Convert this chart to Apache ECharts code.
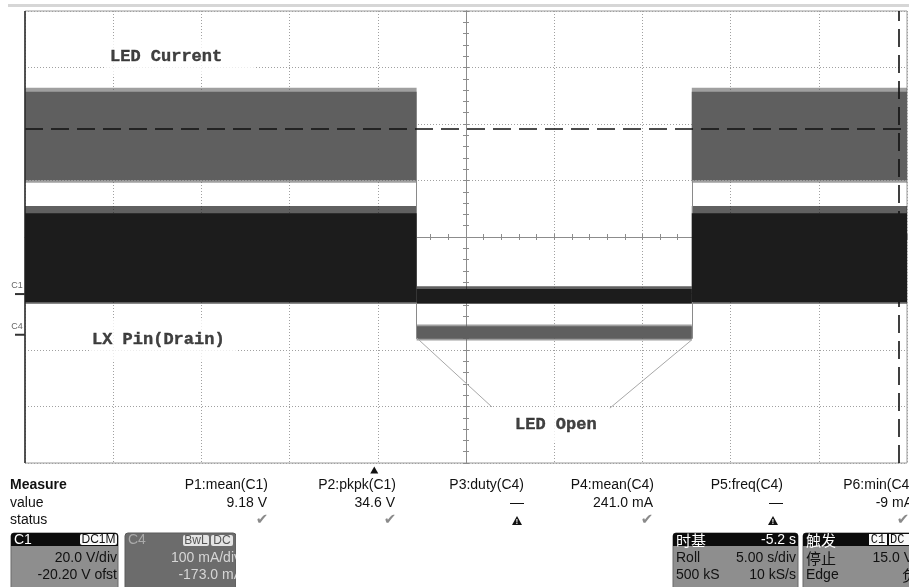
<!DOCTYPE html>
<html><head><meta charset="utf-8">
<script src="https://cdn.jsdelivr.net/npm/echarts/dist/echarts.min.js"></script>
<style>html,body{margin:0;padding:0;background:#fff}#c{width:909px;height:587px}</style>
</head><body><div id="c"></div>
<script>
// ---------- data read from the scope screen ----------
// time in seconds (trigger = 0 s), 5 s/div, delay -5.2 s
const timeBreaks = [-19.8, 2.4, 18.0, 30.2];           // LED normal | LED open | LED normal
// C4: LED current (mA), envelope of the noisy trace in each segment
const ledCurrentHigh  = [430, 15, 430];
const ledCurrentLow   = [274, -7, 274];
const ledCurrentPeakHigh = [437, 18, 437];
const ledCurrentPeakLow  = [269, -10, 269];
// C1: LX pin (drain) voltage (V)
const lxHigh = [28.6, 1.8, 28.6];
const lxLow  = [-2.8, -3.2, -2.8];
const lxPeakHigh = [31.2, 2.8, 31.2];
const lxPeakLow  = [-3.4, -3.5, -3.4];
// cursors
const refLevelmA = 364;
const cursorTime = 29.75;
const triggerTime = 0;
// annotation (screen divisions from centre)
const annotLeft  = [[-0.556, -1.79], [0.295, -3.01]];
const annotRight = [[2.56, -1.82], [1.63, -3.03]];
const annotTexts = ['LED Current', 'LX Pin(Drain)', 'LED Open'];
const annotAt    = [[-4.093, 3.19], [-4.263, -1.823], [0.272, -3.327]];
// measurement table
const measureNames  = ['P1:mean(C1)', 'P2:pkpk(C1)', 'P3:duty(C4)', 'P4:mean(C4)', 'P5:freq(C4)', 'P6:min(C4)'];
const measureValues = ['9.18 V', '34.6 V', '\u2014', '241.0 mA', '\u2014', '-9 mA'];
const measureStatus = ['ok', 'ok', 'warn', 'ok', 'warn', 'ok'];
// channel / timebase settings
const c1Settings = ['20.0 V/div', '-20.20 V ofst'];
const c4Settings = ['100 mA/div', '-173.0 mA'];
const tbSettings = [['Roll', '5.00 s/div'], ['500 kS', '10 kS/s']];
const trigSettings = [['\u505c\u6b62', '15.0 V'], ['Edge', '\u8d1f']];

// ---------- scales ----------
const SEC_DIV = 5, DELAY = 5.2;
const timeRange = [DELAY - 5 * SEC_DIV, DELAY + 5 * SEC_DIV];
const C1_SCALE = 20, C1_OFST = -20.2;
const c1Range = [-C1_OFST - 4 * C1_SCALE, -C1_OFST + 4 * C1_SCALE];
const C4_SCALE = 100, C4_OFST = -173;
const c4Range = [-C4_OFST - 4 * C4_SCALE, -C4_OFST + 4 * C4_SCALE];

function bandSeries(name, lows, highs, color, yIdx, z) {
  const data = lows.map((lo, i) => [timeBreaks[i], timeBreaks[i + 1], lo, highs[i]]);
  return {
    type: 'custom', name, z, xAxisIndex: 2, yAxisIndex: yIdx, clip: true,
    dimensions: ['t0', 't1', 'lo', 'hi'], encode: { x: [0, 1], y: [2, 3] },
    data,
    renderItem: (params, api) => {
      const p0 = api.coord([api.value(0), api.value(3)]);
      const p1 = api.coord([api.value(1), api.value(2)]);
      return { type: 'rect', shape: { x: p0[0], y: p0[1], width: p1[0] - p0[0], height: p1[1] - p0[1] },
        style: { fill: color } };
    }
  };
}

const axisCol = '#8c8c8c';
const divAxisX = (pos, split) => ({
  type: 'value', min: -5, max: 5, interval: 1, position: pos,
  axisLine: { show: true, onZero: true, onZeroAxisIndex: 0, lineStyle: { color: axisCol, width: 1 } },
  axisTick: { show: true, length: 3, lineStyle: { color: axisCol } },
  minorTick: { show: true, splitNumber: 5, length: 3, lineStyle: { color: axisCol } },
  axisLabel: { show: false },
  splitLine: { show: split, lineStyle: { color: '#a0a0a0', width: 1, type: [1, 2] } }
});
const divAxisY = (pos, split) => ({
  type: 'value', min: -4, max: 4, interval: 1, position: pos,
  axisLine: { show: true, onZero: true, onZeroAxisIndex: 0, lineStyle: { color: axisCol, width: 1 } },
  axisTick: { show: true, length: 3, lineStyle: { color: axisCol } },
  minorTick: { show: true, splitNumber: 5, length: 3, lineStyle: { color: axisCol } },
  axisLabel: { show: false },
  splitLine: { show: split, lineStyle: { color: '#a0a0a0', width: 1, type: [1, 2] } }
});

// ---------- UI graphics (measure table and panels) ----------
const G = [];
const SANS = 'Liberation Sans, Arial, sans-serif';
const CJK = 'Noto Sans CJK SC, sans-serif';
function T(x, y, text, o) {
  G.push({ type: 'text', x, y, z: 100, style: Object.assign({ text, fontFamily: SANS, fontSize: 14, fill: '#111', align: 'left', verticalAlign: 'middle' }, o || {}) });
}
function R(x, y, w, h, fill, o) {
  o = o || {};
  G.push({ type: 'rect', z: o.z || 99, shape: { x, y, width: w, height: h, r: o.r || 0 }, style: { fill, stroke: o.stroke || null, lineWidth: o.lw || 0 } });
}
R(8, 4, 901, 3, '#d6d6d6');
T(10, 485, 'Measure', { fontWeight: 'bold' });
T(10, 503, 'value');
T(10, 520, 'status');
const colRight = [268, 396, 524, 654, 783, 914];
const iconX = [262, 390, 517, 647, 773, 903];
measureNames.forEach((n, i) => {
  T(colRight[i], 485, n, { align: 'right' });
  T(colRight[i] - (measureValues[i] === '\u2014' ? 0 : 1), 503, measureValues[i], { align: 'right' });
  if (measureStatus[i] === 'ok') {
    T(iconX[i], 520, '\u2714', { align: 'center', fontFamily: 'DejaVu Sans', fontSize: 15, fill: '#8a8a8a' });
  } else {
    const x = iconX[i], y = 521;
    G.push({ type: 'polygon', z: 100, shape: { points: [[x - 5, y + 4], [x + 5, y + 4], [x, y - 5]] }, style: { fill: '#111' } });
    T(x, y + 1, '!', { align: 'center', fontSize: 7, fontWeight: 'bold', fill: '#fff', z: 101 });
  }
});
// C1 panel
R(11, 533, 107, 60, '#8e8e8e', { r: 3, stroke: '#6a6a6a', lw: 1 });
R(11, 533, 107, 13, '#0c0c0c', { r: [3, 3, 0, 0] });
T(14, 540, 'C1', { fill: '#fff' });
R(80, 534, 37, 11, '#fafafa', { r: 2, z: 100 });
T(98.5, 540, 'DC1M', { align: 'center', fontSize: 12, fill: '#111', z: 101 });
T(117, 558, c1Settings[0], { align: 'right' });
T(117, 575, c1Settings[1], { align: 'right' });
// C4 panel
R(125, 533, 111, 60, '#6c6c6c', { r: 3, stroke: '#5a5a5a', lw: 1 });
T(128, 540, 'C4', { fill: '#a9a9a9' });
R(183, 535, 26, 11, '#e4e4e4', { r: 2, z: 100 });
T(196, 540.5, 'BwL', { align: 'center', fontSize: 12, fill: '#555', z: 101 });
R(211, 535, 22, 11, '#e4e4e4', { r: 2, z: 100 });
T(222, 540.5, 'DC', { align: 'center', fontSize: 12, fill: '#555', z: 101 });
T(241, 558, c4Settings[0], { align: 'right', fill: '#d6d6d6' });
T(243, 575, c4Settings[1], { align: 'right', fill: '#d6d6d6' });
R(236, 528, 30, 59, '#fff', { z: 102 });
// timebase panel
R(673, 533, 125, 60, '#8e8e8e', { r: 3, stroke: '#6a6a6a', lw: 1 });
R(673, 533, 125, 13, '#0c0c0c', { r: [3, 3, 0, 0] });
T(676, 540, '\u65f6\u57fa', { fill: '#fff', fontFamily: CJK, fontSize: 15 });
T(796, 540, '-5.2 s', { align: 'right', fill: '#fff' });
tbSettings.forEach((r, i) => { T(676, 558 + i * 17, r[0]); T(796, 558 + i * 17, r[1], { align: 'right' }); });
// trigger panel
R(803, 533, 120, 60, '#8e8e8e', { r: 3, stroke: '#6a6a6a', lw: 1 });
R(803, 533, 120, 13, '#0c0c0c', { r: [3, 0, 0, 0] });
T(806, 540, '\u89e6\u53d1', { fill: '#fff', fontFamily: CJK, fontSize: 15 });
R(869, 534, 18, 11, '#fafafa', { z: 100 });
T(878, 540, 'C1', { align: 'center', fontFamily: 'Liberation Mono, monospace', fontSize: 12, z: 101 });
R(889, 534, 22, 11, '#fafafa', { z: 100 });
T(890, 540, 'DC', { fontFamily: 'Liberation Mono, monospace', fontSize: 12, z: 101 });
trigSettings.forEach((r, i) => {
  T(806, 558 + i * 17, r[0], i === 0 ? { fontFamily: CJK, fontSize: 15 } : {});
  T(i === 0 ? 913 : 917, 558 + i * 17, r[1], Object.assign({ align: 'right' }, i === 1 ? { fontFamily: CJK, fontSize: 15 } : {}));
});

const chart = echarts.init(document.getElementById('c'), null, { renderer: 'canvas' });
const labelFont = { fontFamily: 'Liberation Mono, Courier New, monospace', fontWeight: 'bold', fontSize: 17, color: '#111', backgroundColor: '#fff', lineHeight: 18, textBorderColor: '#111', textBorderWidth: 0.4 };
const pads = [[9, 33, 9, 5], [10, 12, 16, 2], [4, 13, 14, 25]];

chart.setOption({
  animation: false,
  backgroundColor: '#fff',
  grid: { left: 25, top: 11, width: 882, height: 452, show: true, borderColor: '#9a9a9a', borderWidth: 1, backgroundColor: '#fff' },
  xAxis: [divAxisX('bottom', true), divAxisX('top', false),
    { type: 'value', min: timeRange[0], max: timeRange[1], show: false }],
  yAxis: [divAxisY('left', true), divAxisY('right', false),
    { type: 'value', min: c1Range[0], max: c1Range[1], show: false },
    { type: 'value', min: c4Range[0], max: c4Range[1], show: false }],
  graphic: G,
  series: [
    bandSeries('LED current peaks', ledCurrentPeakLow, ledCurrentPeakHigh, 'rgba(95,95,95,0.6)', 3, 2),
    bandSeries('LED current', ledCurrentLow, ledCurrentHigh, '#5f5f5f', 3, 3),
    {
      type: 'line', name: 'LED current edges', xAxisIndex: 2, yAxisIndex: 3, data: [], z: 3,
      markLine: {
        silent: true, symbol: 'none', label: { show: false },
        lineStyle: { color: '#8a8a8a', width: 1, type: 'solid' },
        data: [
          [{ coord: [timeBreaks[1], ledCurrentLow[0]] }, { coord: [timeBreaks[1], ledCurrentLow[1]] }],
          [{ coord: [timeBreaks[2], ledCurrentLow[1]] }, { coord: [timeBreaks[2], ledCurrentLow[2]] }]
        ]
      }
    },
    bandSeries('LX peaks', lxPeakLow, lxPeakHigh, 'rgba(28,28,28,0.7)', 2, 4),
    bandSeries('LX', lxLow, lxHigh, '#1c1c1c', 2, 5),
    {
      type: 'line', name: 'C1 markers', xAxisIndex: 2, yAxisIndex: 2, data: [], z: 6,
      markPoint: {
        silent: true,
        data: [
          { coord: [triggerTime, c1Range[0]], symbol: 'triangle', symbolSize: [8, 7], symbolOffset: [0, 7], itemStyle: { color: '#111' }, label: { show: false } },
          { coord: [timeRange[0], 0], symbol: 'rect', symbolSize: [10, 2], symbolOffset: [-5, 0], itemStyle: { color: '#333' },
            label: { show: true, formatter: 'C1', position: 'top', distance: 3, offset: [-3, 0], fontSize: 9, color: '#666', fontFamily: SANS } }
        ]
      }
    },
    {
      type: 'line', name: 'C4 markers', xAxisIndex: 2, yAxisIndex: 3, data: [], z: 6,
      markPoint: {
        silent: true,
        data: [
          { coord: [timeRange[0], 0], symbol: 'rect', symbolSize: [10, 2], symbolOffset: [-5, 0], itemStyle: { color: '#333' },
            label: { show: true, formatter: 'C4', position: 'top', distance: 3, offset: [-3, 0], fontSize: 9, color: '#666', fontFamily: SANS } }
        ]
      },
      markLine: {
        silent: true, symbol: 'none', label: { show: false },
        lineStyle: { color: '#111', width: 1.6, type: [18, 8] },
        data: [{ yAxis: refLevelmA }, { xAxis: cursorTime }]
      }
    },
    {
      type: 'line', name: 'annot left', data: annotLeft, symbol: 'none', z: 7,
      lineStyle: { color: '#a8a8a8', width: 1 },
      markLine: { silent: true, symbol: 'none', label: { show: false }, lineStyle: { color: '#2a2a2a', width: 1.5, type: 'solid' }, data: [{ xAxis: -5 }] }
    },
    { type: 'line', name: 'annot right', data: annotRight, symbol: 'none', z: 7, lineStyle: { color: '#a8a8a8', width: 1 } },
    {
      type: 'scatter', name: 'labels', z: 8, symbolSize: 0,
      data: annotTexts.map((t, i) => ({
        value: annotAt[i],
        label: Object.assign({ show: true, formatter: t, position: [0, 0], align: 'left', verticalAlign: 'middle', padding: pads[i] }, labelFont)
      }))
    }
  ]
});
</script></body></html>
